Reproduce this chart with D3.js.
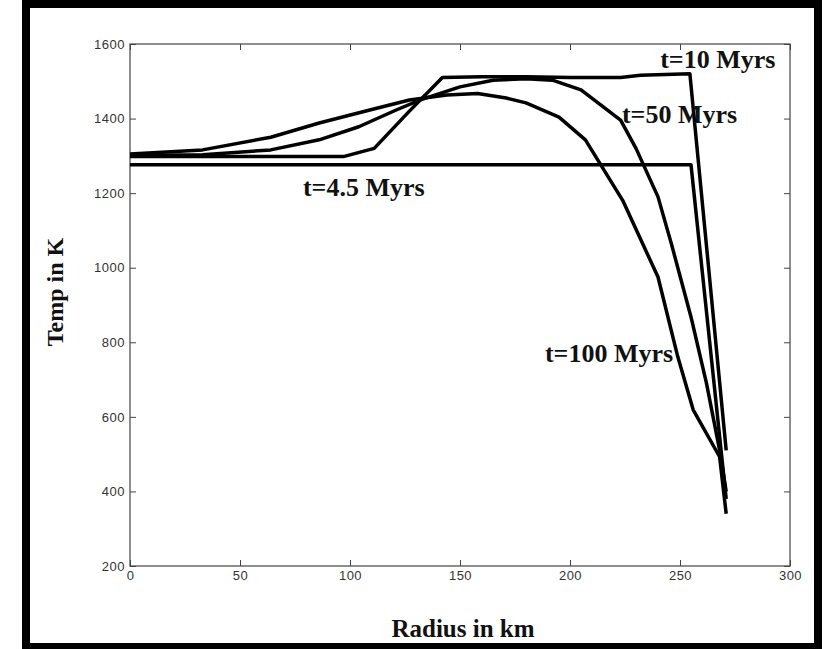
<!DOCTYPE html>
<html lang="en">
<head>
<meta charset="utf-8" />
<title>Temp vs radius</title>
<script src="https://d3js.org/d3.v7.min.js"></script>
<style>
  body { margin:0; background:#fff; }
  .tick text { font-family: "Liberation Sans", Arial, sans-serif; }
</style>
</head>
<body>
<div id="myDiv"></div>
<script>
// tick values for both axes
var xTicks = [0, 50, 100, 150, 200, 250, 300];
var yTicks = [200, 400, 600, 800, 1000, 1200, 1400, 1600];

// t = 4.5 Myrs
var radius4 = [0, 255, 271];
var temp4 = [1276, 1276, 380];

// t = 10 Myrs
var radius10 = [0, 97, 111, 127, 142, 160, 180, 200, 223, 232, 254.5, 271];
var temp10 = [1298, 1298, 1320, 1420, 1510, 1512, 1512, 1510, 1510, 1516, 1520, 510];

// t = 50 Myrs
var radius50 = [0, 33, 64, 86, 104, 121, 132, 150, 165, 180, 192, 205, 223, 230, 240, 246, 255, 262, 268, 271];
var temp50 = [1301, 1303, 1316, 1343, 1378, 1423, 1450, 1485, 1503, 1507, 1503, 1477, 1396, 1320, 1190, 1066, 868, 691, 511, 400];

// t = 100 Myrs
var radius100 = [0, 33, 64, 86, 109, 127, 144, 158, 171, 180, 195, 207, 214, 224, 240, 249, 256, 268, 271];
var temp100 = [1305, 1316, 1350, 1388, 1423, 1450, 1463, 1467, 1455, 1442, 1404, 1343, 1276, 1180, 975, 761, 619, 493, 340];

// curve labels: text, radius and temperature where the text starts
var labelText = ["t=10 Myrs", "t=50 Myrs", "t=100 Myrs", "t=4.5 Myrs"];
var labelRadius = [241, 223.6, 188.6, 78.6];
var labelTemp = [1535, 1388, 747, 1192];

function drawChart(){
  var width = 826, height = 649;
  // plot box edges (named so they don't clash with window.top)
  var boxLeft = 130, boxRight = 790, boxTop = 44, boxBottom = 566;

  var svg = d3.select("#myDiv").append("svg")
      .attr("width", width)
      .attr("height", height);

  // outer frame
  svg.append("rect")
      .attr("x", 26).attr("y", 4)
      .attr("width", 792).attr("height", 643)
      .attr("fill", "none")
      .attr("stroke", "black")
      .attr("stroke-width", 8);

  var xScale = d3.scaleLinear().domain([0, 300]).range([boxLeft, boxRight]);
  var yScale = d3.scaleLinear().domain([200, 1600]).range([boxBottom, boxTop]);

  // box round the plot
  svg.append("rect")
      .attr("x", boxLeft).attr("y", boxTop)
      .attr("width", boxRight - boxLeft).attr("height", boxBottom - boxTop)
      .attr("fill", "none")
      .attr("stroke", "#444")
      .attr("stroke-width", 1.2);

  // axes with ticks pointing inwards like matlab
  var xAxis = d3.axisBottom(xScale).tickValues(xTicks).tickSizeInner(-6).tickSizeOuter(0).tickPadding(5).tickFormat(d3.format("d"));
  var yAxis = d3.axisLeft(yScale).tickValues(yTicks).tickSizeInner(-6).tickSizeOuter(0).tickPadding(5).tickFormat(d3.format("d"));

  svg.append("g")
      .attr("transform", "translate(0," + boxBottom + ")")
      .call(xAxis);
  svg.append("g")
      .attr("transform", "translate(" + boxLeft + ",0)")
      .call(yAxis);
  // top and right ticks, no labels
  svg.append("g")
      .attr("transform", "translate(0," + boxTop + ")")
      .call(d3.axisTop(xScale).tickValues(xTicks).tickSizeInner(-6).tickSizeOuter(0).tickFormat(""));
  svg.append("g")
      .attr("transform", "translate(" + boxRight + ",0)")
      .call(d3.axisRight(yScale).tickValues(yTicks).tickSizeInner(-6).tickSizeOuter(0).tickFormat(""));

  svg.selectAll(".domain").remove();
  svg.selectAll(".tick line").attr("stroke", "#444");
  svg.selectAll(".tick text")
      .attr("font-size", 13)
      .attr("fill", "#333")
      .attr("letter-spacing", "0.5px");

  // the four curves
  var series = [
    [radius4, temp4],
    [radius10, temp10],
    [radius50, temp50],
    [radius100, temp100]
  ];

  var line = d3.line()
      .x(function(d){ return xScale(d[0]); })
      .y(function(d){ return yScale(d[1]); });

  series.forEach(function(s){
    var pts = s[0].map(function(r, i){ return [r, s[1][i]]; });
    svg.append("path")
        .datum(pts)
        .attr("d", line)
        .attr("fill", "none")
        .attr("stroke", "black")
        .attr("stroke-width", 3.5)
        .attr("stroke-linejoin", "round");
  });

  // curve labels
  labelText.forEach(function(t, i){
    svg.append("text")
        .attr("x", xScale(labelRadius[i]))
        .attr("y", yScale(labelTemp[i]))
        .attr("font-family", "Liberation Serif, Times New Roman, serif")
        .attr("font-weight", "bold")
        .attr("font-size", 26)
        .attr("fill", "#111")
        .text(t);
  });

  // axis titles
  svg.append("text")
      .attr("x", 463).attr("y", 637)
      .attr("text-anchor", "middle")
      .attr("font-family", "Liberation Serif, Times New Roman, serif")
      .attr("font-weight", "bold")
      .attr("font-size", 25)
      .attr("fill", "#111")
      .text("Radius in km");

  svg.append("text")
      .attr("transform", "translate(63,292) rotate(-90)")
      .attr("text-anchor", "middle")
      .attr("font-family", "Liberation Serif, Times New Roman, serif")
      .attr("font-weight", "bold")
      .attr("font-size", 24)
      .attr("fill", "#111")
      .text("Temp in K");
}

drawChart();
</script>
</body>
</html>
